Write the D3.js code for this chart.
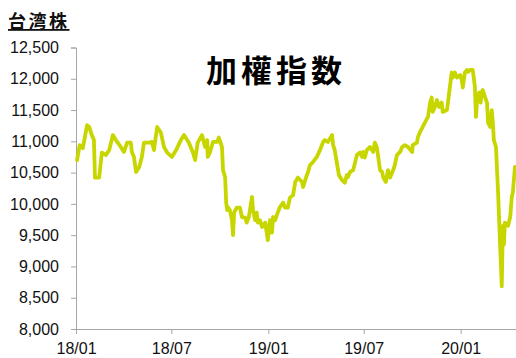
<!DOCTYPE html>
<html>
<head>
<meta charset="utf-8">
<script src="https://cdn.jsdelivr.net/npm/d3@7/dist/d3.min.js"></script>
<style>
  html, body { margin: 0; padding: 0; background: #fff; }
  svg { display: block; }
</style>
</head>
<body>
<svg id="chart" width="516" height="358"></svg>
<script>
// TAIEX close, Jan 2018 – Apr 2020
const tradeDates = [
  "2018-01-03","2018-01-08","2018-01-14","2018-01-22","2018-01-26","2018-01-31","2018-02-04","2018-02-06",
  "2018-02-14","2018-02-19","2018-02-27","2018-03-05","2018-03-12","2018-03-20","2018-03-27","2018-04-02",
  "2018-04-08","2018-04-15","2018-04-17","2018-04-21","2018-04-25","2018-05-01","2018-05-06","2018-05-10",
  "2018-05-20","2018-05-25","2018-05-29","2018-06-04","2018-06-11","2018-06-17","2018-06-23","2018-07-02",
  "2018-07-10","2018-07-19","2018-07-25","2018-08-03","2018-08-11","2018-08-15","2018-08-20","2018-08-28",
  "2018-09-03","2018-09-07","2018-09-08","2018-09-12","2018-09-18","2018-09-26","2018-09-29","2018-10-05",
  "2018-10-07","2018-10-11","2018-10-13","2018-10-15","2018-10-16","2018-10-20","2018-10-24","2018-10-26",
  "2018-10-28","2018-11-02","2018-11-08","2018-11-12","2018-11-18","2018-11-21","2018-11-25","2018-12-01",
  "2018-12-03","2018-12-07","2018-12-10","2018-12-12","2018-12-16","2018-12-20","2018-12-26","2018-12-29",
  "2018-12-31","2019-01-04","2019-01-08","2019-01-10","2019-01-14","2019-01-17","2019-01-23","2019-01-29",
  "2019-02-02","2019-02-07","2019-02-11","2019-02-17","2019-02-21","2019-02-26","2019-03-06","2019-03-08",
  "2019-03-15","2019-03-17","2019-03-21","2019-03-27","2019-04-03","2019-04-09","2019-04-15","2019-04-18",
  "2019-04-24","2019-05-02","2019-05-04","2019-05-07","2019-05-11","2019-05-15","2019-05-21","2019-05-26",
  "2019-05-30","2019-06-01","2019-06-05","2019-06-11","2019-06-18","2019-06-24","2019-06-28","2019-06-30",
  "2019-07-03","2019-07-07","2019-07-13","2019-07-19","2019-07-22","2019-07-26","2019-08-01","2019-08-05",
  "2019-08-07","2019-08-12","2019-08-16","2019-08-20","2019-08-26","2019-08-29","2019-09-02","2019-09-08",
  "2019-09-12","2019-09-17","2019-09-23","2019-10-01","2019-10-02","2019-10-10","2019-10-12","2019-10-16",
  "2019-10-21","2019-10-25","2019-10-31","2019-11-04","2019-11-07","2019-11-09","2019-11-13","2019-11-17",
  "2019-11-21","2019-11-26","2019-11-28","2019-12-06","2019-12-08","2019-12-12","2019-12-15","2019-12-17",
  "2019-12-21","2019-12-25","2019-12-31","2020-01-03","2020-01-05","2020-01-09","2020-01-13","2020-01-15",
  "2020-01-19","2020-01-24","2020-01-28","2020-01-30","2020-02-01","2020-02-05","2020-02-08","2020-02-10",
  "2020-02-12","2020-02-16","2020-02-20","2020-02-22","2020-02-26","2020-02-29","2020-03-02","2020-03-04",
  "2020-03-08","2020-03-12","2020-03-16","2020-03-19","2020-03-21","2020-03-23","2020-03-25","2020-03-31",
  "2020-04-04","2020-04-07","2020-04-09","2020-04-13"
];
const taiex = [
  10700,10940,10890,11260,11230,11100,11020,10420,
  10420,10820,10780,10860,11100,10990,10910,10830,
  10980,10980,10830,10750,10510,10590,10750,10980,
  10980,10990,10860,11230,11140,10910,10820,10750,
  10860,11020,11100,10980,10820,10700,10980,11100,
  10910,11020,10750,10820,10990,10990,11060,10910,
  10540,10430,10020,9900,9950,9900,9740,9500,
  9860,9940,9940,9790,9780,9700,9790,10110,
  9900,9740,9860,9700,9740,9630,9700,9540,
  9420,9740,9540,9790,9740,9820,9950,10020,
  9940,9940,10100,10140,10350,10420,10350,10270,
  10460,10500,10620,10670,10750,10860,10990,11020,
  10990,11100,10940,10860,10660,10460,10380,10340,
  10460,10430,10510,10540,10780,10820,10750,10830,
  10740,10860,10910,10830,10980,10900,10540,10510,
  10420,10350,10540,10420,10540,10620,10780,10830,
  10910,10940,10910,10830,10940,10980,11070,11150,
  11230,11300,11390,11620,11700,11470,11550,11660,
  11550,11620,11470,11500,11630,11900,12100,12020,
  12100,12020,12060,11980,11860,12100,12140,12110,
  12140,12140,11870,11390,11620,11780,11620,11790,
  11820,11710,11620,11300,11230,11500,11300,11020,
  10910,10180,9310,8680,9650,9350,9700,9650,
  9790,10110,10180,10590
];
const yTicks = [8000, 8500, 9000, 9500, 10000, 10500, 11000, 11500, 12000, 12500];
const xTickDates = ["2018-01-01", "2018-07-01", "2019-01-01", "2019-07-01", "2020-01-01"];
const xDomain = ["2018-01-01", "2020-04-15"];

const parse = d3.timeParse("%Y-%m-%d");
const series = tradeDates.map((d, i) => ({ date: parse(d), value: taiex[i] }));

const svg = d3.select("#chart");
const plot = { left: 76, right: 516, top: 47.5, bottom: 329 };
const axisColor = "#a6a6a6";
const textFont = "'Liberation Sans', Arial, sans-serif";

const x = d3.scaleTime().domain(xDomain.map(parse)).range([plot.left, plot.right]);
const y = d3.scaleLinear().domain([8000, 12500]).range([plot.bottom, plot.top]);

// Y axis
const yAxis = svg.append("g")
  .attr("transform", `translate(${plot.left},0)`)
  .call(d3.axisLeft(y).tickValues(yTicks).tickSize(5).tickPadding(12)
    .tickFormat(d3.format(",")));
yAxis.select(".domain").attr("stroke", axisColor);
yAxis.selectAll(".tick line").attr("stroke", axisColor);
yAxis.selectAll(".tick text")
  .attr("font-family", textFont).attr("font-size", 16).attr("fill", "#111");

// X axis
const xAxis = svg.append("g")
  .attr("transform", `translate(0,${plot.bottom})`)
  .call(d3.axisBottom(x).tickValues(xTickDates.map(parse)).tickSize(5).tickPadding(9)
    .tickFormat(d3.timeFormat("%y/%m")));
xAxis.select(".domain").attr("stroke", axisColor);
xAxis.selectAll(".tick line").attr("stroke", axisColor);
xAxis.selectAll(".tick text")
  .attr("font-family", textFont).attr("font-size", 16).attr("fill", "#111");

// Index line
const line = d3.line().x(d => x(d.date)).y(d => y(d.value));
svg.append("path")
  .datum(series)
  .attr("d", line)
  .attr("fill", "none")
  .attr("stroke", "#c8d600")
  .attr("stroke-width", 3.8)
  .attr("stroke-linejoin", "round")
  .attr("stroke-linecap", "round");

// Headings
svg.append("text")
  .attr("x", 8).attr("y", 28)
  .attr("font-family", "'Noto Sans CJK JP', sans-serif")
  .attr("font-weight", "bold").attr("font-size", 18)
  .attr("letter-spacing", 2.5)
  .attr("text-decoration", "underline")
  .attr("fill", "#111")
  .text("台湾株");

svg.append("text")
  .attr("x", 206).attr("y", 82)
  .attr("font-family", "'Noto Sans CJK JP', sans-serif")
  .attr("font-weight", "bold").attr("font-size", 31)
  .attr("letter-spacing", 4)
  .attr("fill", "#000")
  .text("加權指数");
</script>
</body>
</html>
